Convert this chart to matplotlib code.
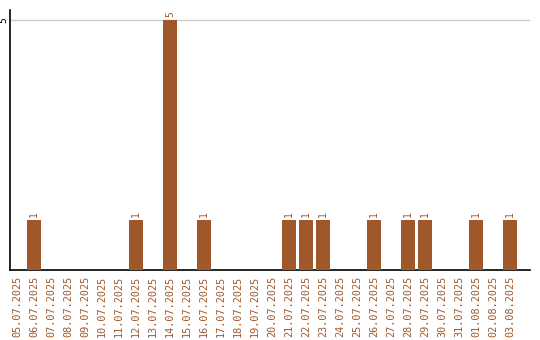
import matplotlib
matplotlib.use("Agg")
import matplotlib.pyplot as plt
import numpy as np

dates = ["05.07.2025", "06.07.2025", "07.07.2025", "08.07.2025", "09.07.2025",
         "10.07.2025", "11.07.2025", "12.07.2025", "13.07.2025", "14.07.2025",
         "15.07.2025", "16.07.2025", "17.07.2025", "18.07.2025", "19.07.2025",
         "20.07.2025", "21.07.2025", "22.07.2025", "23.07.2025", "24.07.2025",
         "25.07.2025", "26.07.2025", "27.07.2025", "28.07.2025", "29.07.2025",
         "30.07.2025", "31.07.2025", "01.08.2025", "02.08.2025", "03.08.2025"]
counts = [0, 1, 0, 0, 0, 0, 0, 1, 0, 5,
          0, 1, 0, 0, 0, 0, 1, 1, 1, 0,
          0, 1, 0, 1, 1, 0, 0, 1, 0, 1]

brown = "#a0582a"
font = "DejaVu Sans Mono"

fig = plt.figure(figsize=(5.4, 3.4), dpi=100)
ax = fig.add_axes([10 / 540, 70 / 340, 520 / 540, 260 / 340])

x = np.arange(len(dates))
bars = ax.bar(x, counts, width=0.82, color=brown, zorder=3)

for xi, c in zip(x, counts):
    if c > 0:
        ax.text(xi, c + 0.06, str(c), rotation=90, ha="center", va="bottom",
                color=brown, fontsize=7, family=font)

ax.set_xlim(-0.41, 30.18)
ax.set_ylim(0, 5.2)
ax.set_xticks(x)
ax.set_xticklabels(dates, rotation=90, color=brown, fontsize=7.3, family=font)
ax.set_yticks([5])
ax.set_yticklabels(["5"], rotation=90, va="center", fontsize=7, family=font)
ax.tick_params(length=0)
ax.tick_params(axis="y", pad=1)
ax.tick_params(axis="x", pad=4)
ax.yaxis.grid(True, color="#cccccc", linewidth=1)
ax.set_axisbelow(True)

for s in ["top", "right"]:
    ax.spines[s].set_visible(False)
for s in ["left", "bottom"]:
    ax.spines[s].set_color("black")
    ax.spines[s].set_linewidth(1.2)

fig.savefig("out.png", dpi=100)
